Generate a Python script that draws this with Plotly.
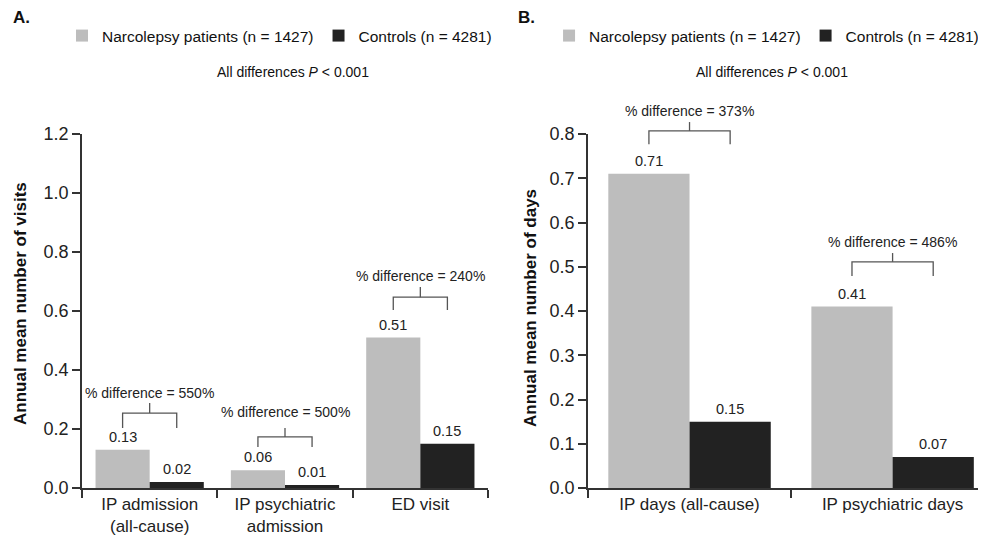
import plotly.graph_objects as go

# ---------------- data ----------------
cats_a = ["IP admission<br>(all-cause)", "IP psychiatric<br>admission", "ED visit"]
narco_a = [0.13, 0.06, 0.51]
ctrl_a = [0.02, 0.01, 0.15]
pct_a = ["550%", "500%", "240%"]

cats_b = ["IP days (all-cause)", "IP psychiatric days"]
narco_b = [0.71, 0.41]
ctrl_b = [0.15, 0.07]
pct_b = ["373%", "486%"]

yticks_a = [0.0, 0.2, 0.4, 0.6, 0.8, 1.0, 1.2]
yticks_b = [0.0, 0.1, 0.2, 0.3, 0.4, 0.5, 0.6, 0.7, 0.8]

name_narco = "Narcolepsy patients (n = 1427)"
name_ctrl = "Controls (n = 4281)"

# ---------------- style / layout constants ----------------
FONT = "Liberation Sans, Arial, sans-serif"
GRAY = "#bdbdbd"
BLACK = "#222222"
AXC = "#333333"
WIN_W, WIN_H = 986, 537
PAGE_OFF = 8                      # default body margin of the html page
W, H = WIN_W - PAGE_OFF, WIN_H - PAGE_OFF


def px(xp):   # window pixel -> paper x
    return (xp - PAGE_OFF) / W


def py(yp):   # window pixel -> paper y
    return 1 - (yp - PAGE_OFF) / H


Y0_PX, YTOP_PX = 488, 134
ydom = [py(Y0_PX), py(YTOP_PX)]
YMAX_A, YMAX_B = 1.2, 0.8
# bracket levels: (legs bottom, bracket top, centre tick top, text centre)
brk_a = [(0.203, 0.254, 0.288, 0.322), (0.139, 0.173, 0.203, 0.258), (0.603, 0.647, 0.681, 0.719)]
brk_b = [(0.777, 0.807, 0.827, 0.852), (0.479, 0.511, 0.531, 0.556)]
OFF = 0.2  # offset of each bar from its category centre


def ypaper(v, ymax):
    return ydom[0] + (ydom[1] - ydom[0]) * v / ymax


fig = go.Figure()
fig.add_trace(go.Bar(x=cats_a, y=narco_a, name=name_narco, marker_color=GRAY,
                     xaxis="x", yaxis="y", legend="legend"))
fig.add_trace(go.Bar(x=cats_a, y=ctrl_a, name=name_ctrl, marker_color=BLACK,
                     xaxis="x", yaxis="y", legend="legend"))
fig.add_trace(go.Bar(x=cats_b, y=narco_b, name=name_narco, marker_color=GRAY,
                     xaxis="x2", yaxis="y2", legend="legend2"))
fig.add_trace(go.Bar(x=cats_b, y=ctrl_b, name=name_ctrl, marker_color=BLACK,
                     xaxis="x2", yaxis="y2", legend="legend2"))
fig.update_traces(marker_line_width=0, hoverinfo="skip")

annotations = []
shapes = []


def add_panel(xref, yref, ymax, cats, narco, ctrl, pcts, brks):
    for i in range(len(cats)):
        for xv, yv in ((i - OFF, narco[i]), (i + OFF, ctrl[i])):
            annotations.append(dict(x=xv, y=yv, xref=xref, yref=yref, text=f"{yv:.2f}",
                                    showarrow=False, yanchor="bottom", yshift=3,
                                    font=dict(size=14.5, color="#222")))
        lb, bt, tt, ty = [ypaper(v, ymax) for v in brks[i]]
        xl, xr = i - OFF, i + OFF
        line = dict(color="#555", width=1.3)
        shapes.append(dict(type="path", xref=xref, yref="paper",
                           path=f"M {xl},{lb} L {xl},{bt} L {xr},{bt} L {xr},{lb}", line=line))
        shapes.append(dict(type="line", xref=xref, yref="paper", x0=i, x1=i, y0=bt, y1=tt, line=line))
        annotations.append(dict(x=i, y=ty, xref=xref, yref="paper", text=f"% difference = {pcts[i]}",
                                showarrow=False, yanchor="middle",
                                font=dict(size=14, color="#222")))


add_panel("x", "y", YMAX_A, cats_a, narco_a, ctrl_a, pct_a, brk_a)
add_panel("x2", "y2", YMAX_B, cats_b, narco_b, ctrl_b, pct_b, brk_b)

annotations += [
    dict(x=px(11), y=py(18), xref="paper", yref="paper", text="<b>A.</b>", showarrow=False,
         xanchor="left", yanchor="middle", font=dict(size=17, color="#111")),
    dict(x=px(516), y=py(18), xref="paper", yref="paper", text="<b>B.</b>", showarrow=False,
         xanchor="left", yanchor="middle", font=dict(size=17, color="#111")),
    dict(x=px(293), y=py(72), xref="paper", yref="paper", text="All differences <i>P</i> < 0.001",
         showarrow=False, xanchor="center", yanchor="middle", font=dict(size=14, color="#111")),
    dict(x=px(772), y=py(72), xref="paper", yref="paper", text="All differences <i>P</i> < 0.001",
         showarrow=False, xanchor="center", yanchor="middle", font=dict(size=14, color="#111")),
    dict(x=px(20), y=py(304), xref="paper", yref="paper", text="<b>Annual mean number of visits</b>",
         showarrow=False, textangle=-90, xanchor="center", yanchor="middle", font=dict(size=17, color="#111")),
    dict(x=px(530), y=py(308), xref="paper", yref="paper", text="<b>Annual mean number of days</b>",
         showarrow=False, textangle=-90, xanchor="center", yanchor="middle", font=dict(size=17, color="#111")),
]

common_x = dict(type="category", tickson="boundaries", ticks="outside", ticklen=8, tickwidth=1.5,
                tickcolor=AXC, showline=True, linecolor=AXC, linewidth=1.5, showgrid=False,
                zeroline=False, tickfont=dict(size=17, color="#222"), fixedrange=True, automargin=False)
common_y = dict(ticks="outside", ticklen=8, tickwidth=1.5, tickcolor=AXC, showline=True,
                linecolor=AXC, linewidth=1.5, showgrid=False, zeroline=False,
                tickfont=dict(size=18, color="#222"), domain=ydom, fixedrange=True, automargin=False)

fig.update_layout(
    template="none",
    width=W, height=H,
    margin=dict(l=0, r=0, t=0, b=0, autoexpand=False),
    paper_bgcolor="white", plot_bgcolor="white",
    font=dict(family=FONT, color="#222"),
    barmode="group", bargap=0.2, bargroupgap=0,
    xaxis=dict(common_x, domain=[px(82), px(488)], range=[-0.5, 2.5], anchor="y"),
    yaxis=dict(common_y, range=[0, YMAX_A], tickvals=yticks_a,
               ticktext=[f"{v:.1f}" for v in yticks_a], anchor="x"),
    xaxis2=dict(common_x, domain=[px(588), 1.0], range=[-0.5, 1.46], anchor="y2"),
    yaxis2=dict(common_y, range=[0, YMAX_B], tickvals=yticks_b,
                ticktext=[f"{v:.1f}" for v in yticks_b], anchor="x2"),
    legend=dict(orientation="h", x=px(62), y=py(36), xanchor="left", yanchor="middle",
                font=dict(size=15.5, color="#111"), itemwidth=30, bgcolor="rgba(0,0,0,0)"),
    legend2=dict(orientation="h", x=0.998, y=py(36), xanchor="right", yanchor="middle",
                 font=dict(size=15.5, color="#111"), itemwidth=30, bgcolor="rgba(0,0,0,0)"),
    annotations=annotations,
    shapes=shapes,
    showlegend=True,
)

fig.write_html("out.html")
